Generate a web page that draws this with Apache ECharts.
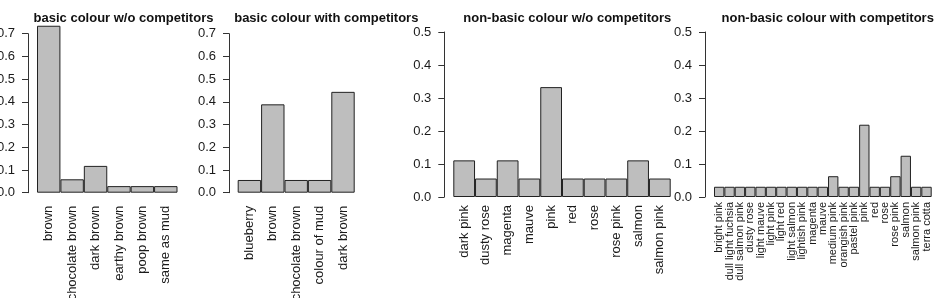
<!DOCTYPE html>
<html><head><meta charset="utf-8">
<script src="https://cdn.jsdelivr.net/npm/echarts@6/dist/echarts.min.js"></script>
<style>html,body{margin:0;padding:0;background:#fff}#c{width:936px;height:298px}</style>
</head><body><div id="c"></div>
<script>
const titles = ["basic colour w/o competitors", "basic colour with competitors", "non-basic colour w/o competitors", "non-basic colour with competitors"];
const cats1 = ["brown", "chocolate brown", "dark brown", "earthy brown", "poop brown", "same as mud"];
const vals1 = [0.735, 0.059, 0.118, 0.029, 0.029, 0.029];
const cats2 = ["blueberry", "brown", "chocolate brown", "colour of mud", "dark brown"];
const vals2 = [0.056, 0.389, 0.056, 0.056, 0.444];
const cats3 = ["dark pink", "dusty rose", "magenta", "mauve", "pink", "red", "rose", "rose pink", "salmon", "salmon pink"];
const vals3 = [0.111, 0.056, 0.111, 0.056, 0.333, 0.056, 0.056, 0.056, 0.111, 0.056];
const cats4 = ["bright pink", "dull light fuchsia", "dull salmon pink", "dusty rose", "light mauve", "light pink", "light red", "light salmon", "lightish pink", "magenta", "mauve", "medium pink", "orangish pink", "pastel pink", "pink", "red", "rose", "rose pink", "salmon", "salmon pink", "terra cotta"];
const vals4 = [0.031, 0.031, 0.031, 0.031, 0.031, 0.031, 0.031, 0.031, 0.031, 0.031, 0.031, 0.063, 0.031, 0.031, 0.219, 0.031, 0.031, 0.063, 0.125, 0.031, 0.031];
const yMax = [0.7, 0.7, 0.5, 0.5];

const FONT = "'Liberation Sans', Arial, Helvetica, sans-serif";
const panels = [
  {cats: cats1, vals: vals1, left: 37, width: 140.5, top: 33.7, height: 159, off: 9, titleX: 118.5, lab: 13, lm: 13},
  {cats: cats2, vals: vals2, left: 237.7, width: 117, top: 33.7, height: 159, off: 8.7, titleX: 321.3, lab: 13, lm: 13},
  {cats: cats3, vals: vals3, left: 453.3, width: 217.4, top: 32, height: 165, off: 9, titleX: 562.3, lab: 13, lm: 8},
  {cats: cats4, vals: vals4, left: 714, width: 217.7, top: 32, height: 165, off: 9, titleX: 822.7, lab: 11, lm: 5}
];

const chart = echarts.init(document.getElementById('c'), null, {renderer: 'canvas'});
const option = {
  animation: false,
  backgroundColor: '#fff',
  textStyle: {fontFamily: FONT},
  title: panels.map((p, i) => ({
    text: titles[i], left: p.titleX, top: 7, textAlign: 'center',
    textStyle: {fontFamily: FONT, fontSize: 13, fontWeight: 'bold', color: '#111'}
  })),
  grid: panels.map(p => ({left: p.left, top: p.top, width: p.width, height: p.height, containLabel: false, outerBoundsMode: 'none'})),
  xAxis: panels.map((p, i) => ({
    type: 'category', gridIndex: i, data: p.cats, boundaryGap: true,
    axisLine: {show: false}, axisTick: {show: false},
    axisLabel: {rotate: 90, interval: 0, fontSize: p.lab, color: '#1a1a1a', margin: p.lm, fontFamily: FONT}
  })),
  yAxis: panels.map((p, i) => ({
    type: 'value', gridIndex: i, min: 0, max: yMax[i], interval: 0.1, offset: p.off,
    splitLine: {show: false},
    axisLine: {show: true, lineStyle: {color: '#333', width: 1}},
    axisTick: {show: true, length: 6, lineStyle: {color: '#333', width: 1}},
    axisLabel: {fontSize: 13, color: '#1a1a1a', margin: 13, fontFamily: FONT, formatter: v => v.toFixed(1)}
  })),
  series: panels.map((p, i) => ({
    type: 'bar', xAxisIndex: i, yAxisIndex: i, data: p.vals, clip: false,
    barCategoryGap: '0%', silent: true,
    itemStyle: {color: '#bebebe', borderColor: '#222', borderWidth: 1}
  }))
};
chart.setOption(option);
</script></body></html>
